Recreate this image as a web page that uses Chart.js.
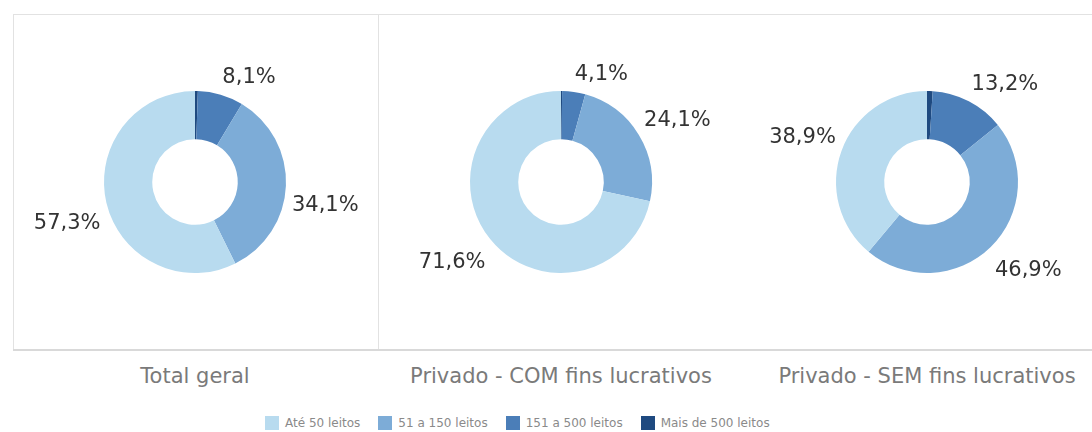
<!DOCTYPE html>
<html>
<head>
<meta charset="utf-8">
<script src="https://cdn.jsdelivr.net/npm/chart.js@4.4.1/dist/chart.umd.min.js"></script>
<style>
    body { margin: 0; background: #fff; width: 1092px; height: 432px; overflow: hidden; position: relative; font-family: "DejaVu Sans", sans-serif; }
    .line { position: absolute; background: #e2e2e2; }
    .panel { position: absolute; top: 14px; width: 366px; height: 336px; }
    .cat { position: absolute; top: 364px; width: 366px; text-align: center; font-size: 21px; color: #7a7a7a; }
    #legend { position: absolute; left: 265px; top: 416px; display: flex; font-size: 12px; color: #8a8a8a; }
    .item { display: flex; align-items: center; margin-right: 18px; }
    .swatch { width: 14px; height: 14px; margin-right: 6px; }
</style>
</head>
<body>
<div class="line" style="left:13px; top:14px; width:1079px; height:1px;"></div>
<div class="line" style="left:13px; top:14px; width:1px; height:336px;"></div>
<div class="line" style="left:378px; top:14px; width:1px; height:336px;"></div>
<div class="line" style="left:13px; top:349px; width:1079px; height:2px; background:#d9d9d9;"></div>
<div id="panels"></div>
<div id="legend"></div>

<script>
// Share of hospitals by bed count, per ownership type
const categories = ['Total geral', 'Privado - COM fins lucrativos', 'Privado - SEM fins lucrativos'];
const faixas = ['Até 50 leitos', '51 a 150 leitos', '151 a 500 leitos', 'Mais de 500 leitos'];
const ate50 = [57.3, 71.6, 38.9];
const de51a150 = [34.1, 24.1, 46.9];
const de151a500 = [8.1, 4.1, 13.2];
const mais500 = [0.5, 0.2, 1.0];

const colors = ['#b8dbef', '#7dacd7', '#4b7eb8', '#1f4a80'];

// Percent labels outside the ring, anchored next to the middle of each arc
const outsideLabels = {
    id: 'outsideLabels',
    afterDatasetsDraw(chart) {
        const ctx = chart.ctx;
        const meta = chart.getDatasetMeta(0);
        const values = chart.data.datasets[0].data;
        const showLabel = chart.data.datasets[0].showLabel;
        ctx.save();
        ctx.font = '21px "DejaVu Sans"';
        ctx.fillStyle = '#333';
        ctx.textBaseline = 'alphabetic';
        meta.data.forEach((arc, i) => {
            if (!showLabel[i]) return;
            const mid = (arc.startAngle + arc.endAngle) / 2;
            const dx = Math.cos(mid);
            const dy = Math.sin(mid);
            const r = arc.outerRadius + 6;
            const x = arc.x + r * dx;
            const y = arc.y + r * dy;
            ctx.textAlign = dx >= 0 ? 'left' : 'right';
            const ty = dy < 0 ? y - 6 : y + 25;
            ctx.fillText(values[i].toFixed(1).replace('.', ',') + '%', x, ty);
        });
        ctx.restore();
    }
};

const panels = document.getElementById('panels');

categories.forEach((cat, k) => {
    const left = 12 + k * 366;

    const box = document.createElement('div');
    box.className = 'panel';
    box.style.left = left + 'px';
    const canvas = document.createElement('canvas');
    box.appendChild(canvas);
    panels.appendChild(box);

    const label = document.createElement('div');
    label.className = 'cat';
    label.style.left = left + 'px';
    label.textContent = cat;
    document.body.appendChild(label);

    // clockwise from the top: largest hospitals first
    new Chart(canvas, {
        type: 'doughnut',
        data: {
            labels: [faixas[3], faixas[2], faixas[1], faixas[0]],
            datasets: [{
                data: [mais500[k], de151a500[k], de51a150[k], ate50[k]],
                showLabel: [false, true, true, true],
                backgroundColor: [colors[3], colors[2], colors[1], colors[0]],
                borderWidth: 0
            }]
        },
        options: {
            responsive: true,
            maintainAspectRatio: false,
            animation: false,
            radius: 91,
            cutout: '47%',
            plugins: {
                legend: { display: false },
                tooltip: { enabled: false }
            }
        },
        plugins: [outsideLabels]
    });
});

// Legend
const legend = document.getElementById('legend');
faixas.forEach((f, i) => {
    const item = document.createElement('div');
    item.className = 'item';
    item.innerHTML = `<span class="swatch" style="background:${colors[i]}"></span><span>${f}</span>`;
    legend.appendChild(item);
});
</script>
</body>
</html>
